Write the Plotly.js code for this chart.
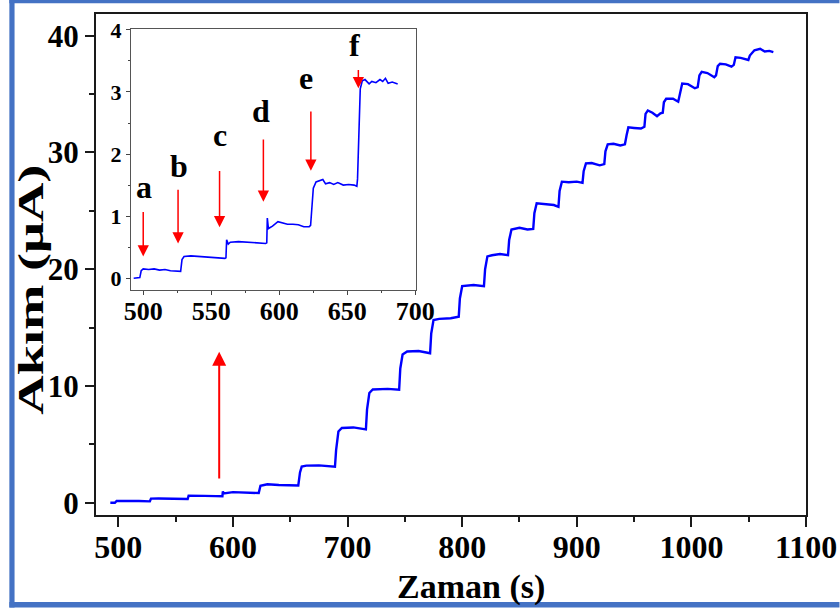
<!DOCTYPE html>
<html>
<head>
<meta charset="utf-8">
<script src="https://cdn.plot.ly/plotly-3.0.1.min.js"></script>
<style>
html,body{margin:0;padding:0;background:#fff;}
#chart{width:840px;height:610px;}
</style>
</head>
<body>
<div id="chart"></div>
<script>
// ---- main amperometric trace ----
const mainTime = [493,497,498.5,503,510,518,527.5,528.5,535,545,553,560.5,561.3,565,575,585,590.8,591.2,592,600,610,622.5,624,630,640,650,657,658.5,660,664,675,689,
690,692,695,705,716,717,719,722,735,745,746,748,752,762,772,773,775,780,790,797,798,800,810,819,820,822,826,833,840,841,843,850,857,862,863,865,872,880,884,885,887,893,900,905,906,908,913,920,924,925,927,932,938,942,
943.5,945,950,956,959,960,962,966,970,973,975,976,978,984,988.5,990,992,997,1003,1005.5,1007,1009,1014,1020,1021.5,1023,1025,1030,1035,1037,1038.5,1043,1049.7,1051,1055,1060,1064,1068,1071.5];
const mainCurrent = [0.0,0.0,0.15,0.16,0.14,0.15,0.12,0.35,0.36,0.34,0.34,0.32,0.60,0.58,0.59,0.57,0.56,0.97,0.80,0.91,0.87,0.83,1.45,1.58,1.52,1.51,1.48,2.6,3.1,3.18,3.2,3.08,
4.5,6.1,6.4,6.45,6.28,8.0,9.4,9.7,9.75,9.68,11.5,12.7,12.95,13.0,12.8,14.5,15.65,15.75,15.8,15.93,17.5,18.55,18.65,18.55,20.0,21.1,21.2,21.3,21.2,22.5,23.4,23.55,23.4,23.45,24.8,25.65,25.6,25.5,25.35,26.7,27.5,27.45,27.5,27.4,28.4,29.07,29.1,28.9,29.0,30.1,30.7,30.75,30.6,30.7,
31.5,32.15,32.1,32.05,32.2,33.3,33.6,33.4,33.1,33.35,33.4,34.3,34.6,34.6,34.35,35.0,35.9,35.85,35.5,35.6,36.6,36.9,36.8,36.45,36.6,37.4,37.6,37.55,37.35,37.5,38.15,38.1,37.92,38.3,38.75,38.88,38.65,38.7,38.6];

// ---- inset trace ----
const insetTime = [493,496,497.5,498.5,500,504,508,512,516,520,524,527.5,528.5,530,535,540,545,550,555,560,560.8,561.3,562.5,564,570,575,580,585,590,590.8,591.2,592,595,599,602,606,610,614,618,622,623,624,625,627,630,632,634,637,640,643,647,651,655,657,657.5,658.5,659.5,661,663,666,668,671,674,676,678,680,683,687];
const insetCurrent = [0.00,0.00,0.01,0.12,0.15,0.14,0.15,0.13,0.14,0.12,0.12,0.11,0.30,0.35,0.36,0.35,0.34,0.34,0.33,0.32,0.33,0.62,0.55,0.58,0.59,0.58,0.58,0.57,0.56,0.57,0.97,0.80,0.84,0.91,0.89,0.87,0.87,0.86,0.83,0.83,0.85,1.25,1.45,1.55,1.58,1.59,1.52,1.54,1.51,1.54,1.50,1.51,1.50,1.48,1.60,2.6,3.05,3.18,3.20,3.13,3.17,3.15,3.20,3.17,3.22,3.14,3.16,3.13];

// ---- ticks ----
const mainXTicks = [500,600,700,800,900,1000,1100];
const mainYTicks = [0,10,20,30,40];
const insetXTicks = [500,550,600,650,700];
const insetYTicks = [0,1,2,3,4];

// ---- arrows & labels ----
const mainArrowX = [588];
const mainArrowTail = [1.94];
const mainArrowTip = [12.93];
const insetArrowX = [500, 525.6, 556.1, 588.3, 623.2, 658.1];
const insetArrowTail = [1.09, 1.45, 1.75, 2.26, 2.71, 3.38];
const insetArrowTip = [0.35, 0.56, 0.82, 1.23, 1.73, 3.06];
const insetLabels = ['a','b','c','d','e','f'];
const insetLabelX = [500.5, 526.3, 556.1, 586.6, 619.5, 655.6];
const insetLabelY = [1.47, 1.81, 2.30, 2.70, 3.22, 3.75];

const xTitle = 'Zaman (s)';
const yTitle = 'Akım (μA)';

const SERIF = 'Liberation Serif';
const AX = '#1a1a1a';

// pixel helpers for decoration (plot area l=96, r=806.5, t=14, b=515)
const L=96, R=806.5, T=14, B=515;
const px = v => (v - L) / (R - L);
const py = v => (B - v) / (B - T);

const traces = [
  {x: mainTime, y: mainCurrent, type:'scatter', mode:'lines', line:{color:'#0000ff', width:2.4}, xaxis:'x', yaxis:'y', hoverinfo:'skip'},
  {x: insetTime, y: insetCurrent, type:'scatter', mode:'lines', line:{color:'#0000ff', width:1.6}, xaxis:'x2', yaxis:'y2', hoverinfo:'skip'}
];

const annotations = [];
for (let i=0;i<mainArrowX.length;i++){
  annotations.push({x: mainArrowX[i], y: mainArrowTip[i], ax: mainArrowX[i], ay: mainArrowTail[i],
    xref:'x', yref:'y', axref:'x', ayref:'y', text:'', showarrow:true, arrowhead:2, arrowsize:1.4, arrowwidth:2, arrowcolor:'#ff0000', standoff:0, startstandoff:0});
}
for (let i=0;i<insetArrowX.length;i++){
  annotations.push({x: insetArrowX[i], y: insetArrowTip[i], ax: insetArrowX[i], ay: insetArrowTail[i],
    xref:'x2', yref:'y2', axref:'x2', ayref:'y2', text:'', showarrow:true, arrowhead:2, arrowsize:1.5, arrowwidth:1.5, arrowcolor:'#ff0000', standoff:0, startstandoff:0});
  annotations.push({x: insetLabelX[i], y: insetLabelY[i], xref:'x2', yref:'y2', text: insetLabels[i], showarrow:false,
    font:{family:SERIF, size:32, color:'#000', weight:'bold'}, xanchor:'center', yanchor:'middle'});
}
annotations.push({x: px(471.7), y: py(587), xref:'paper', yref:'paper', text: xTitle, showarrow:false,
  font:{family:SERIF, size:34, color:'#000', weight:'bold'}, xanchor:'center', yanchor:'middle'});
annotations.push({x: px(31), y: py(290), xref:'paper', yref:'paper', text: yTitle, showarrow:false, textangle:-90,
  font:{family:SERIF, size:35, color:'#000', weight:'bold'}, xanchor:'center', yanchor:'middle'});

const BLUE = '#4472c4';
const shapes = [
  {type:'rect', xref:'paper', yref:'paper', x0:px(9.3), x1:px(14.5), y0:py(0), y1:py(607.5), fillcolor:BLUE, line:{width:0}, layer:'above'},
  {type:'rect', xref:'paper', yref:'paper', x0:px(9.3), x1:px(840), y0:py(0), y1:py(3.3), fillcolor:BLUE, line:{width:0}, layer:'above'},
  {type:'rect', xref:'paper', yref:'paper', x0:px(9.3), x1:px(840), y0:py(602), y1:py(607.5), fillcolor:BLUE, line:{width:0}, layer:'above'}
];

const tickFontMainX = {family:SERIF, size:32, color:'#000', weight:'bold'};
const tickFontMainY = {family:SERIF, size:31, color:'#000', weight:'bold'};

const layout = {
  width:840, height:610,
  font:{family:SERIF, color:'#000'},
  margin:{l:L, r:840-R, t:T, b:610-B, pad:0},
  paper_bgcolor:'#fff', plot_bgcolor:'#fff',
  showlegend:false,
  xaxis:{domain:[0,1], range:[480.5,1100], tickmode:'array', tickvals:mainXTicks, ticktext:mainXTicks.map(String),
    ticks:'outside', ticklen:10, tickwidth:2, tickcolor:AX, ticklabelstandoff:-7,
    minor:{dtick:50, tick0:500, ticks:'outside', ticklen:5, tickwidth:2, tickcolor:AX, showgrid:false},
    showline:true, linewidth:2, linecolor:AX, mirror:true, showgrid:false, zeroline:false, tickfont:tickFontMainX},
  yaxis:{domain:[0,1], range:[-1.05,41.86], tickmode:'array', tickvals:mainYTicks, ticktext:mainYTicks.map(String),
    ticks:'outside', ticklen:9, tickwidth:2, tickcolor:AX,
    minor:{dtick:5, tick0:0, ticks:'outside', ticklen:5, tickwidth:2, tickcolor:AX, showgrid:false},
    showline:true, linewidth:2, linecolor:AX, mirror:true, showgrid:false, zeroline:false, tickfont:tickFontMainY},
  xaxis2:{anchor:'y2', domain:[px(131), px(416)], range:[491,700.3], tickmode:'array', tickvals:insetXTicks, ticktext:insetXTicks.map(String),
    ticks:'outside', ticklen:4, tickwidth:1, tickcolor:'#444', ticklabelstandoff:-6,
    minor:{dtick:25, tick0:500, ticks:'outside', ticklen:2, tickwidth:1, tickcolor:'#444', showgrid:false},
    showline:true, linewidth:1, linecolor:'#555', mirror:true, showgrid:false, zeroline:false,
    tickfont:{family:SERIF, size:26, color:'#000', weight:'bold'}},
  yaxis2:{anchor:'x2', domain:[py(290), py(29.3)], range:[-0.19,4.01], tickmode:'array', tickvals:insetYTicks, ticktext:insetYTicks.map(String),
    ticks:'outside', ticklen:4, tickwidth:1, tickcolor:'#444',
    minor:{dtick:0.5, tick0:0, ticks:'outside', ticklen:2, tickwidth:1, tickcolor:'#444', showgrid:false},
    showline:true, linewidth:1, linecolor:'#555', mirror:true, showgrid:false, zeroline:false,
    tickfont:{family:SERIF, size:22, color:'#000', weight:'bold'}},
  annotations: annotations,
  shapes: shapes
};

function stretchYTitle(){
  document.querySelectorAll('#chart .annotation-text').forEach(t => {
    if (t.textContent === yTitle) {
      t.setAttribute('textLength', '250');
      t.setAttribute('lengthAdjust', 'spacingAndGlyphs');
    }
  });
}

Plotly.newPlot('chart', traces, layout, {staticPlot:true, displayModeBar:false}).then(gd => {
  stretchYTitle();
  gd.on && gd.on('plotly_afterplot', stretchYTitle);
});
</script>
</body>
</html>
